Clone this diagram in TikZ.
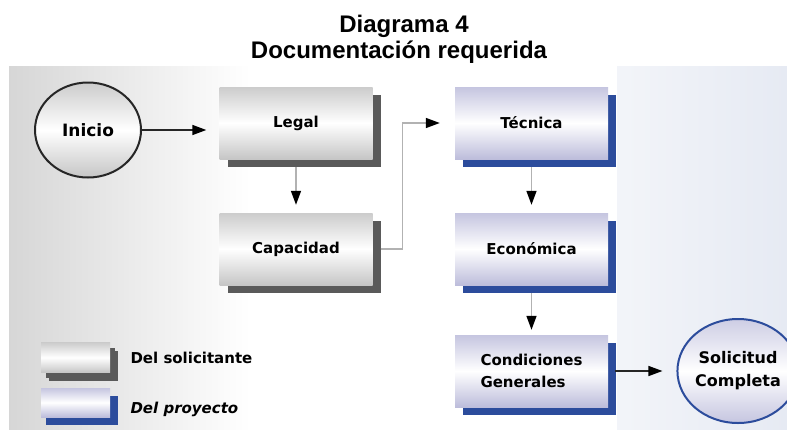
\documentclass[tikz,border=0pt]{standalone}
\usepackage{fontspec}
\setmainfont{Liberation Sans}
\newfontfamily\boxfont{DejaVu Sans}
\usepackage{tikz}
\usetikzlibrary{positioning, shapes.geometric, arrows.meta, shadows}

\definecolor{barragris}{HTML}{5A5A5A}
\definecolor{barraazul}{HTML}{2C4C9C}
\definecolor{fondoazul}{HTML}{E6EAF3}

\begin{document}
\begin{tikzpicture}[x=1pt,y=-1pt,
  caja/.style={rectangle, minimum width=153pt, minimum height=72pt, inner sep=0pt,
    top color=gray!40, bottom color=gray!45, middle color=white,
    font=\boxfont\bfseries\fontsize{15}{22}\selectfont, align=left,
    drop shadow={shadow xshift=8pt, shadow yshift=-8pt, fill=barragris, opacity=1}},
  cajaazul/.style={caja, top color=blue!30!gray!35, bottom color=blue!30!gray!40, middle color=white,
    drop shadow={shadow xshift=8pt, shadow yshift=-8pt, fill=barraazul, opacity=1}},
  muestra/.style={caja, minimum width=69pt, minimum height=30pt,
    drop shadow={shadow xshift=5pt, shadow yshift=-5pt, fill=barragris, opacity=1}},
  muestraazul/.style={cajaazul, minimum width=69pt, minimum height=29pt,
    drop shadow={shadow xshift=5pt, shadow yshift=-8pt, fill=barraazul, opacity=1}},
  extremo/.style={ellipse, inner sep=0pt, line width=2pt, align=center,
    top color=gray!40, bottom color=gray!45, middle color=white,
    font=\boxfont\bfseries\fontsize{16}{23}\selectfont},
  leyenda/.style={anchor=west, font=\boxfont\bfseries\fontsize{15}{17}\selectfont},
  flecha/.style={-{Triangle[length=14pt,width=10pt,color=black]}, line width=1.5pt, gray!60}]
  \useasboundingbox (0,0) rectangle (787,429);
  % fondo
  \shade[left color=gray!32, right color=white] (9,66) rectangle (250,429);
  \fill[white] (250,66) rectangle (617,429);
  \shade[left color=fondoazul!50, right color=fondoazul] (617,66) rectangle (787,429);
  % titulo
  \node[anchor=base, font=\bfseries\fontsize{24}{28}\selectfont] (titulo) at (404,32) {Diagrama 4};
  \node[anchor=base, font=\bfseries\fontsize{24}{28}\selectfont] (subtitulo) at (399,58) {Documentación requerida};
  % pasos
  \node[extremo, draw=gray!30!black, minimum width=106pt, minimum height=95pt,
    font=\boxfont\bfseries\fontsize{17}{23}\selectfont] (inicio) at (88,130) {Inicio};
  \node[caja] (legal) at (296,123) {Legal};
  \node[caja] (capacidad) at (296,249) {Capacidad};
  \node[cajaazul] (tecnica) at (531.5,123) {Técnica};
  \node[cajaazul] (economica) at (531.5,249) {Económica};
  \node[cajaazul] (condiciones) at (531.5,371) {Condiciones\\Generales};
  \node[extremo, draw=barraazul, top color=blue!30!gray!30, bottom color=blue!30!gray!35, middle color=white,
    minimum width=97pt, minimum height=104pt] (solicitud) at (738,371) {Solicitud\\Completa};
  % leyenda
  \node[muestra] (solicitante) at (75.5,357.5) {};
  \node[muestraazul] (proyecto) at (75.5,402.5) {};
  \node[leyenda] (txtsolicitante) at (127,358) {Del solicitante};
  \node[leyenda, font=\boxfont\bfseries\itshape\fontsize{15}{17}\selectfont] (txtproyecto) at (127,409) {Del proyecto};
  % conexiones
  \draw[flecha, gray!30!black] (inicio.east) -- (inicio.east -| legal.west) [shorten >=13pt];
  \draw[flecha, shorten <=8pt, shorten >=8pt] (legal) -- (capacidad);
  \draw[flecha, shorten <=8pt, shorten >=15pt] (capacidad.east) -- ++(30,0) |- (tecnica.west);
  \draw[flecha, shorten <=8pt, shorten >=8pt] (tecnica) -- (economica);
  \draw[flecha, shorten <=8pt, shorten >=5pt] (economica) -- (condiciones);
  \draw[flecha, gray!30!black, shorten <=7pt, shorten >=14pt] (condiciones) -- (solicitud);
\end{tikzpicture}
\end{document}
